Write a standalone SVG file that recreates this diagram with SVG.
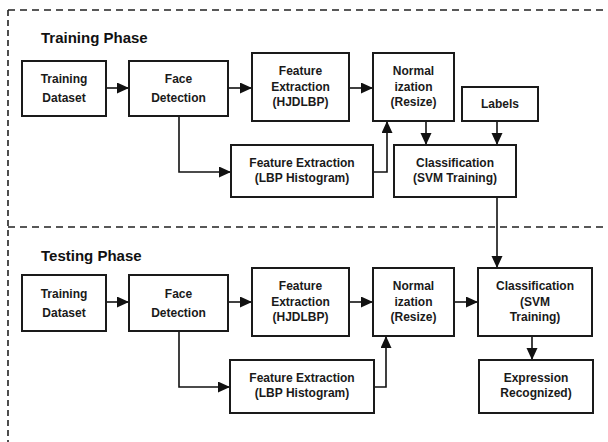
<svg xmlns="http://www.w3.org/2000/svg" width="608" height="442" viewBox="0 0 608 442">
<style>
.bx{fill:#fff;stroke:#1a1a1a;stroke-width:2}
.t{font-family:"Liberation Sans",Arial,sans-serif;font-weight:bold;font-size:12px;fill:#1a1a1a;text-anchor:middle}
.ti{font-family:"Liberation Sans",Arial,sans-serif;font-weight:bold;font-size:15px;fill:#111}
.c{fill:none;stroke:#111;stroke-width:1.6}
.d{fill:none;stroke:#222;stroke-width:1.6;stroke-dasharray:7 5}
</style>
<defs>
<marker id="ah" markerUnits="userSpaceOnUse" markerWidth="13" markerHeight="12" refX="12" refY="5.5" orient="auto">
<path d="M0,0 L12,5.5 L0,11 z" fill="#111"/>
</marker>
</defs>
<g id="frame">
<path class="d" d="M8,10 H608"/>
<path class="d" d="M8,227 H608"/>
<path class="d" d="M8,10 V442" style="stroke-dasharray:6 4"/>
</g>
<g id="titles">
<text class="ti" x="41" y="43">Training Phase</text>
<text class="ti" x="41" y="261">Testing Phase</text>
</g>
<g id="connectors">
<path class="c" d="M106,88 H129" marker-end="url(#ah)"/>
<path class="c" d="M228,88 H252" marker-end="url(#ah)"/>
<path class="c" d="M349,88 H373" marker-end="url(#ah)"/>
<path class="c" d="M179,116 V172 H231" marker-end="url(#ah)"/>
<path class="c" d="M373,172 H387 V121" marker-end="url(#ah)"/>
<path class="c" d="M426,121 V145" marker-end="url(#ah)"/>
<path class="c" d="M497,121 V145" marker-end="url(#ah)"/>
<path class="c" d="M497,197 V268" marker-end="url(#ah)"/>
<path class="c" d="M106,302 H129" marker-end="url(#ah)"/>
<path class="c" d="M228,302 H252" marker-end="url(#ah)"/>
<path class="c" d="M349,302 H373" marker-end="url(#ah)"/>
<path class="c" d="M454,302 H478" marker-end="url(#ah)"/>
<path class="c" d="M179,331 V387 H230" marker-end="url(#ah)"/>
<path class="c" d="M374,387 H386 V336" marker-end="url(#ah)"/>
<path class="c" d="M532,336 V360" marker-end="url(#ah)"/>
</g>
<g id="tr-dataset"><rect class="bx" x="22" y="61" width="84" height="55"/><text class="t" x="64" y="83">Training</text><text class="t" x="64" y="102">Dataset</text></g>
<g id="tr-face"><rect class="bx" x="129" y="61" width="99" height="55"/><text class="t" x="178.5" y="83">Face</text><text class="t" x="178.5" y="102">Detection</text></g>
<g id="tr-hjdlbp"><rect class="bx" x="252" y="53" width="97" height="68"/><text class="t" x="300.5" y="75">Feature</text><text class="t" x="300.5" y="91">Extraction</text><text class="t" x="300.5" y="106">(HJDLBP)</text></g>
<g id="tr-norm"><rect class="bx" x="373" y="53" width="81" height="68"/><text class="t" x="413.5" y="75">Normal</text><text class="t" x="413.5" y="91">ization</text><text class="t" x="413.5" y="106">(Resize)</text></g>
<g id="tr-labels"><rect class="bx" x="462" y="87" width="76" height="34"/><text class="t" x="500" y="108">Labels</text></g>
<g id="tr-lbp"><rect class="bx" x="231" y="145" width="142" height="52"/><text class="t" x="302" y="167">Feature Extraction</text><text class="t" x="302" y="182">(LBP Histogram)</text></g>
<g id="tr-class"><rect class="bx" x="394" y="145" width="122" height="52"/><text class="t" x="455" y="167">Classification</text><text class="t" x="455" y="182">(SVM Training)</text></g>
<g id="te-dataset"><rect class="bx" x="22" y="275" width="84" height="56"/><text class="t" x="64" y="298">Training</text><text class="t" x="64" y="317">Dataset</text></g>
<g id="te-face"><rect class="bx" x="129" y="275" width="99" height="56"/><text class="t" x="178.5" y="298">Face</text><text class="t" x="178.5" y="317">Detection</text></g>
<g id="te-hjdlbp"><rect class="bx" x="252" y="268" width="97" height="68"/><text class="t" x="300.5" y="290">Feature</text><text class="t" x="300.5" y="306">Extraction</text><text class="t" x="300.5" y="321">(HJDLBP)</text></g>
<g id="te-norm"><rect class="bx" x="373" y="268" width="81" height="68"/><text class="t" x="413.5" y="290">Normal</text><text class="t" x="413.5" y="306">ization</text><text class="t" x="413.5" y="321">(Resize)</text></g>
<g id="te-class"><rect class="bx" x="478" y="268" width="114" height="68"/><text class="t" x="535" y="290">Classification</text><text class="t" x="535" y="306">(SVM</text><text class="t" x="535" y="321">Training)</text></g>
<g id="te-lbp"><rect class="bx" x="230" y="360" width="144" height="53"/><text class="t" x="302" y="382">Feature Extraction</text><text class="t" x="302" y="397">(LBP Histogram)</text></g>
<g id="te-expr"><rect class="bx" x="479" y="360" width="114" height="53"/><text class="t" x="536" y="382">Expression</text><text class="t" x="536" y="397">Recognized)</text></g>
</svg>
